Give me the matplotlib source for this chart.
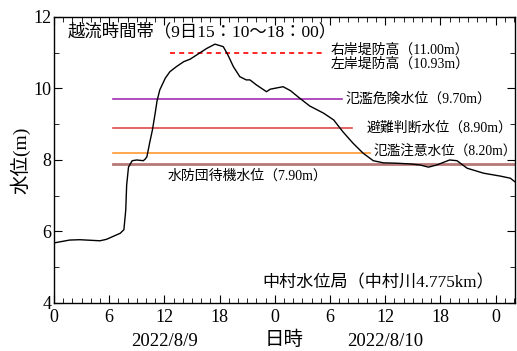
import matplotlib
matplotlib.use("Agg")
import matplotlib.pyplot as plt
from matplotlib.ticker import MultipleLocator

plt.rcParams['font.family'] = ['Liberation Serif', 'Noto Sans CJK JP']

# 経過時間 (2022/8/9 0:00 起点, 時間) と水位 (m)
hours = [0, 1.7, 2.8, 5.0, 5.7, 7.2, 7.6, 7.8, 7.9, 8.1, 8.5, 9.0, 9.7, 9.9,
         10.1, 10.4, 10.7, 11.0, 11.2, 11.5, 12.1, 12.6, 13.3, 14.1, 14.8,
         15.7, 16.6, 17.5, 18.4, 18.9, 19.5, 20.2, 20.9, 21.3, 22.0, 23.1,
         23.5, 24.9, 25.7, 26.7, 27.8, 29.3, 30.4, 31.4, 32.5, 33.6, 34.7,
         35.8, 37.2, 38.7, 39.8, 40.7, 41.6, 43.0, 43.8, 44.9, 46.7, 48.5,
         49.6, 50.1]
level = [5.68, 5.76, 5.77, 5.74, 5.78, 5.95, 6.05, 6.6, 7.3, 7.8, 7.98, 8.0,
         7.98, 8.02, 8.09, 8.48, 8.84, 9.31, 9.65, 9.96, 10.29, 10.47, 10.61,
         10.75, 10.82, 10.97, 11.12, 11.24, 11.17, 10.94, 10.61, 10.33,
         10.24, 10.24, 10.10, 9.91, 9.98, 10.05, 9.94, 9.73, 9.51, 9.31,
         9.12, 8.79, 8.47, 8.19, 7.98, 7.92, 7.91, 7.89, 7.86, 7.80, 7.86,
         8.0, 7.98, 7.77, 7.63, 7.55, 7.49, 7.39]

# 基準水位
ref_names = ['氾濫危険水位（9.70m）', '避難判断水位（8.90m）',
             '氾濫注意水位（8.20m）', '水防団待機水位（7.90m）']
ref_levels = [9.70, 8.90, 8.20, 7.90]
ref_colors = ['#a030b0', '#e04848', '#ff9a30', '#b87878']
ref_xmax = [31.3, 32.4, 34.3, 50.5]
bank_right = 11.00

fig = plt.figure(figsize=(5.17, 3.51), dpi=100)
ax = fig.add_axes([0.1044, 0.1368, 0.8916, 0.8148])

ax.plot(hours, level, color='black', lw=1.0, zorder=5)
ax.plot([12.6, 29.2], [bank_right, bank_right], color='red', lw=1.2,
        ls=(0, (3, 2.5)))
for y, c, xe in zip(ref_levels, ref_colors, ref_xmax):
    ax.plot([6.4, xe], [y, y], color=c, lw=2.0 if y == 7.90 else 1.2)

ax.set_xlim(0, 50.1)
ax.set_ylim(4, 12)
ax.xaxis.set_minor_locator(MultipleLocator(1))
ax.yaxis.set_major_locator(MultipleLocator(2))
ax.yaxis.set_minor_locator(MultipleLocator(1))
ax.set_xticks(range(0, 49, 6))
ax.set_xticklabels([str(h % 24) for h in range(0, 49, 6)])
ax.tick_params(which='both', direction='in', top=True, right=True,
               labelsize=13)
ax.tick_params(axis='x', pad=4)
ax.tick_params(axis='y', pad=2)
ax.tick_params(which='major', length=6)
ax.tick_params(which='minor', length=3.5)
for s in ax.spines.values():
    s.set_linewidth(1.0)

ax.set_ylabel('水位(m)', fontsize=14, labelpad=2)
ax.text(0.5, -0.13, '日時', transform=ax.transAxes, ha='center',
        va='center', fontsize=14)
ax.text(12, -0.135, '2022/8/9', transform=ax.get_xaxis_transform(),
        ha='center', va='center', fontsize=13.5)
ax.text(36, -0.135, '2022/8/10', transform=ax.get_xaxis_transform(),
        ha='center', va='center', fontsize=13.5)

ax.text(1.5, 11.58, '越流時間帯（9日15：10〜18：00）', fontsize=12.5, va='center')
ax.text(30.1, 11.07, '右岸堤防高（11.00m）', fontsize=10, va='center')
ax.text(30.1, 10.68, '左岸堤防高（10.93m）', fontsize=10, va='center')
ax.text(31.7, 9.70, ref_names[0], fontsize=10, va='center')
ax.text(34.0, 8.90, ref_names[1], fontsize=10, va='center')
ax.text(34.7, 8.22, ref_names[2], fontsize=9.8, va='center')
ax.text(12.4, 7.55, ref_names[3], fontsize=10, va='center')
ax.text(22.7, 4.56, '中村水位局（中村川4.775km）', fontsize=12.3, va='center')

fig.savefig('out.png', dpi=100)
